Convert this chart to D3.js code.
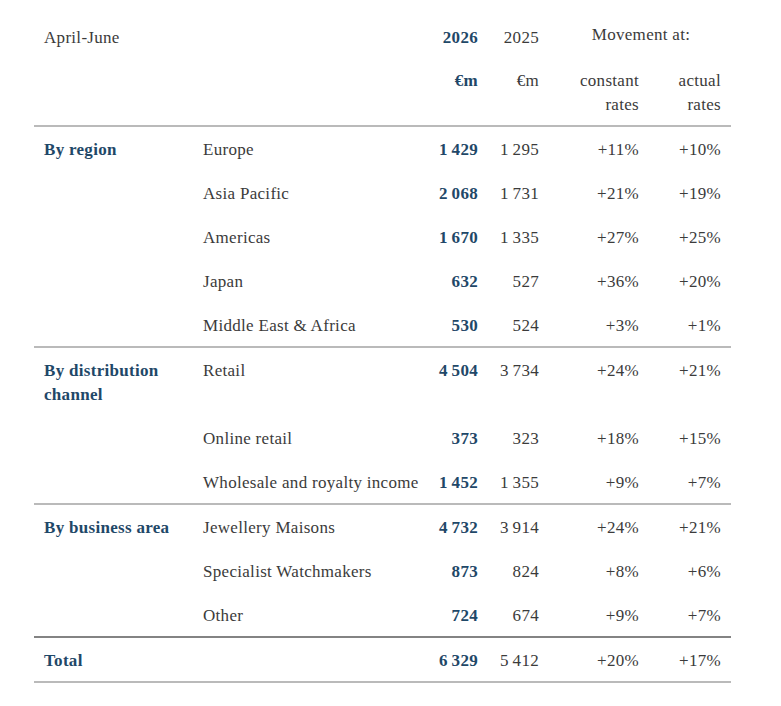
<!DOCTYPE html>
<html>
<head>
<meta charset="utf-8">
<script src="https://cdn.jsdelivr.net/npm/d3@7"></script>
<style>
  html, body { margin: 0; padding: 0; background: #fff; }
  text { font-family: "Liberation Serif", "DejaVu Serif", serif; letter-spacing: 0.3px; }
</style>
</head>
<body>
<div id="chart"></div>
<script>
// data
var groups = ["By region", "By distribution\nchannel", "By business area", "Total"];
var groupRows = [
  ["Europe", "Asia Pacific", "Americas", "Japan", "Middle East & Africa"],
  ["Retail", "Online retail", "Wholesale and royalty income"],
  ["Jewellery Maisons", "Specialist Watchmakers", "Other"],
  [""]
];
var sales2026 = [
  [1429, 2068, 1670, 632, 530],
  [4504, 373, 1452],
  [4732, 873, 724],
  [6329]
];
var sales2025 = [
  [1295, 1731, 1335, 527, 524],
  [3734, 323, 1355],
  [3914, 824, 674],
  [5412]
];
var constantRates = [
  [11, 21, 27, 36, 3],
  [24, 18, 9],
  [24, 8, 9],
  [20]
];
var actualRates = [
  [10, 19, 25, 20, 1],
  [21, 15, 7],
  [21, 6, 7],
  [17]
];
var periodLabel = "April-June";
var yearLabels = ["2026", "2025"];
var unitLabel = "€m";
var movementLabel = "Movement at:";
var rateLabels = [["constant", "rates"], ["actual", "rates"]];

//layout
var W = 781, H = 706;
var area = {
      left: 34, right: 731,
      top: 126,       // first rule under header
      row: 44,        // row pitch
      wrap: 24,       // extra line for a wrapped label
      pad_top: 23, pad_bot: 22,
      base: 5.5       // centre -> baseline
    },
    color = {
      text: "#3b3b3b",
      blue: "#1f4868",
      rule: "#a3a3a3",
      rule_dark: "#5a5a5a"
    },
    font = 17;

var cols = ["group", "label", "y2026", "y2025", "constant", "actual"];
var x = d3.scaleOrdinal().domain(cols).range([44, 203, 478, 539, 639, 721]);
var anchor = d3.scaleOrdinal().domain(cols).range(["start", "start", "end", "end", "end", "end"]);

// row positions in pixel units, built from the data
var rows = [], rules = [area.top], cursor = area.top;
groups.forEach(function(g, gi) {
  cursor += area.pad_top;
  groupRows[gi].forEach(function(lbl, ri) {
    rows.push({
      gi: gi, ri: ri, yc: cursor,
      group: ri == 0 ? g : "",
      label: lbl,
      y2026: sales2026[gi][ri],
      y2025: sales2025[gi][ri],
      constant: constantRates[gi][ri],
      actual: actualRates[gi][ri]
    });
    var extra = (ri == 0 ? g.split("\n").length - 1 : 0);
    cursor += area.row + extra * area.wrap;
  });
  cursor += area.pad_bot - area.row;
  rules.push(cursor);
});

var y = d3.scaleLinear().domain([0, H]).range([0, H]);

var fmtNum = function(v) { return d3.format(",")(v).replace(/,/g, "\u2009"); };
var fmtPct = function(v) { return (v >= 0 ? "+" : "") + v + "%"; };

var svg = d3.select("#chart").append("svg").attr("width", W).attr("height", H);

// header
var hd = svg.append("g").attr("id", "header").attr("font-size", font).attr("fill", color.text);
hd.append("text").attr("x", x("group")).attr("y", y(37 + area.base)).text(periodLabel);
hd.append("text").attr("x", x("y2026")).attr("y", y(37 + area.base)).attr("text-anchor", "end")
  .attr("fill", color.blue).attr("font-weight", "bold").text(yearLabels[0]);
hd.append("text").attr("x", x("y2025")).attr("y", y(37 + area.base)).attr("text-anchor", "end").text(yearLabels[1]);
hd.append("text").attr("x", 641).attr("y", y(34 + area.base)).attr("text-anchor", "middle").text(movementLabel);
hd.append("text").attr("x", x("y2026")).attr("y", y(80 + area.base)).attr("text-anchor", "end")
  .attr("fill", color.blue).attr("font-weight", "bold").text(unitLabel);
hd.append("text").attr("x", x("y2025")).attr("y", y(80 + area.base)).attr("text-anchor", "end").text(unitLabel);
["constant", "actual"].forEach(function(c, i) {
  rateLabels[i].forEach(function(t, k) {
    hd.append("text").attr("x", x(c)).attr("y", y(80 + k * 24 + area.base)).attr("text-anchor", "end").text(t);
  });
});

// rules
svg.append("g").attr("id", "rules").selectAll("line").data(rules).join("line")
   .attr("x1", area.left).attr("x2", area.right)
   .attr("y1", function(d) { return y(d); }).attr("y2", function(d) { return y(d); })
   .attr("stroke", function(d, i) { return i == rules.length - 2 ? color.rule_dark : color.rule; })
   .attr("stroke-width", 1.3);

// body
var body = svg.append("g").attr("id", "body").attr("font-size", font);
var cells = [];
rows.forEach(function(r) {
  cols.forEach(function(c) {
    var v = r[c], t;
    if (c == "y2026" || c == "y2025") t = fmtNum(v);
    else if (c == "constant" || c == "actual") t = fmtPct(v);
    else t = v;
    if (t === "") return;
    cells.push({ col: c, text: t, yc: r.yc, blue: (c == "group" || c == "y2026"), total: r.gi == groups.length - 1 });
  });
});
body.selectAll("text").data(cells).join("text")
    .attr("x", function(d) { return x(d.col); })
    .attr("y", function(d) { return y(d.yc + area.base); })
    .attr("text-anchor", function(d) { return anchor(d.col); })
    .attr("fill", function(d) { return d.blue ? color.blue : color.text; })
    .attr("font-weight", function(d) { return d.blue ? "bold" : "normal"; })
    .each(function(d) {
      var lines = String(d.text).split("\n"), el = d3.select(this);
      lines.forEach(function(l, k) {
        el.append("tspan").attr("x", x(d.col)).attr("dy", k == 0 ? 0 : area.wrap).text(l);
      });
    });
</script>
</body>
</html>
